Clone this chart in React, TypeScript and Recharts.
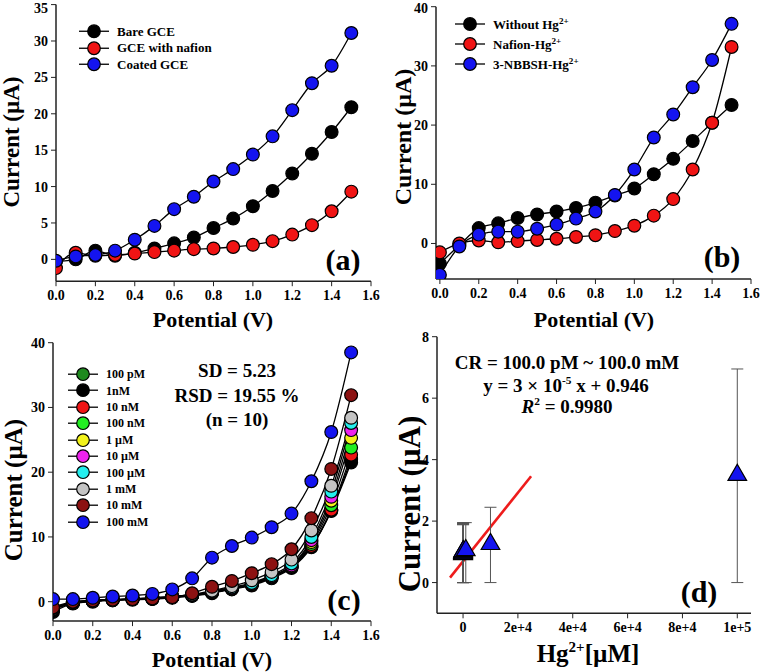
import React from "react";
import {
  LineChart,
  ComposedChart,
  Line,
  Scatter,
  ErrorBar,
  XAxis,
  YAxis,
  ZAxis,
  Legend,
} from "recharts";

const FONT = '"Liberation Serif", "Times New Roman", serif';

// potential sweep (V), shared by (a), (b), (c)
const potential = [0, 0.1, 0.2, 0.3, 0.4, 0.5, 0.6, 0.7, 0.8, 0.9, 1.0, 1.1, 1.2, 1.3, 1.4, 1.5];
const potentialTicks = [0, 0.2, 0.4, 0.6, 0.8, 1.0, 1.2, 1.4, 1.6];

// (a) electrode comparison
const bareGCE = [-0.3, 0.0, 1.2, 0.5, 0.9, 1.5, 2.2, 3.0, 4.3, 5.6, 7.3, 9.4, 11.8, 14.5, 17.5, 20.9];
const nafionGCE = [-1.2, 0.9, 0.5, 0.6, 0.8, 1.0, 1.2, 1.4, 1.5, 1.7, 2.0, 2.5, 3.4, 4.7, 6.6, 9.3];
const coatedGCE = [-0.2, 0.4, 0.6, 1.2, 2.7, 4.6, 6.9, 8.6, 10.7, 12.4, 14.4, 16.9, 20.5, 24.2, 26.6, 31.1];

// (b) Hg2+ response
const withoutHg = [-3.4, -0.3, 2.6, 3.4, 4.3, 4.9, 5.4, 6.0, 6.9, 8.1, 9.3, 11.7, 14.3, 17.3, 20.4, 23.4];
const nafionHg = [-1.5, 0.0, 0.5, 0.2, 0.4, 0.6, 0.8, 1.1, 1.4, 2.1, 3.0, 4.7, 7.5, 12.5, 20.4, 33.2];
const nbbshHg = [-5.3, -0.5, 1.5, 2.0, 2.0, 2.5, 3.2, 4.2, 5.4, 8.2, 12.5, 17.9, 21.8, 26.4, 31.0, 37.1];

// (c) concentration series
const c100pM = [-1.3, -0.2, 0.1, 0.3, 0.4, 0.5, 0.7, 0.9, 1.4, 2.0, 2.6, 3.8, 5.3, 8.5, 14.1, 22.0];
const c1nM = [-1.6, -0.3, 0.0, 0.2, 0.3, 0.4, 0.6, 0.9, 1.3, 1.9, 2.5, 3.6, 5.2, 8.4, 14.0, 21.5];
const c10nM = [-1.2, -0.2, 0.1, 0.3, 0.4, 0.5, 0.7, 1.0, 1.4, 2.0, 2.6, 3.8, 5.4, 8.6, 14.2, 22.7];
const c100nM = [-1.2, -0.2, 0.1, 0.3, 0.4, 0.5, 0.7, 1.0, 1.4, 2.0, 2.7, 3.9, 5.4, 8.9, 14.9, 23.8];
const c1uM = [-1.1, -0.2, 0.1, 0.3, 0.4, 0.5, 0.7, 1.0, 1.5, 2.1, 2.7, 3.9, 5.5, 9.2, 15.6, 25.3];
const c10uM = [-1.1, -0.1, 0.1, 0.3, 0.4, 0.5, 0.7, 1.0, 1.5, 2.1, 2.8, 4.0, 5.6, 9.5, 16.2, 26.5];
const c100uM = [-1.0, -0.1, 0.2, 0.3, 0.4, 0.6, 0.8, 1.0, 1.6, 2.2, 2.9, 4.1, 5.9, 10.0, 17.0, 27.6];
const c1mM = [-1.0, -0.1, 0.2, 0.3, 0.4, 0.6, 0.8, 1.1, 1.7, 2.4, 3.3, 4.6, 6.5, 11.0, 17.9, 28.4];
const c10mM = [-0.9, 0.0, 0.2, 0.3, 0.4, 0.5, 0.7, 1.3, 2.3, 3.2, 4.4, 5.8, 8.1, 12.9, 20.5, 31.9];
const c100mM = [0.4, 0.4, 0.6, 0.8, 0.95, 1.2, 1.9, 3.6, 6.8, 8.6, 9.9, 11.5, 13.6, 18.6, 26.2, 38.5];
const cLabels = ["100 pM", "1nM", "10 nM", "100 nM", "1 µM", "10 µM", "100 µM", "1 mM", "10 mM", "100 mM"];

// (d) calibration, Hg2+ in µM
const hgConc = [1e-4, 1e-3, 1e-2, 0.1, 1, 10, 100, 1000, 1e4, 1e5];
const meanCurrent = [0.92, 0.95, 0.93, 0.97, 0.98, 1.0, 1.02, 1.05, 1.25, 3.5];
const lowerBound = [0, 0, 0, 0, 0, 0, 0, 0, 0, 0];
const upperBound = [1.88, 1.9, 1.9, 1.92, 1.93, 1.95, 1.95, 1.95, 2.45, 6.95];
const fitX = [-4750, 24800];
const fitY = [0.16, 3.46];
const concTicks = [0, 2e4, 4e4, 6e4, 8e4, 1e5];
const concTickLabels = ["0", "2e+4", "4e+4", "6e+4", "8e+4", "1e+5"];

const BLACK = "#000";
const RED = "#f01414";
const BLUE = "#1414f0";
const cColors = ["#1f8a1f", "#000000", "#f01414", "#22ee22", "#f2f21a", "#ee22ee", "#22eeee", "#c4c4c4", "#8c1212", "#1414f0"];

const tickStyle = { fill: "#000", fontSize: 14, fontWeight: 700, fontFamily: FONT };
const axisLine = { stroke: "#222", strokeWidth: 1.5 };

type Item = { color: string; label: React.ReactNode };

function MarkerLegend({ items, row, fontSize }: { items: Item[]; row: number; fontSize: number }) {
  return (
    <div style={{ fontFamily: FONT, fontWeight: 700, fontSize, color: "#000", lineHeight: 1 }}>
      {items.map((it, i) => (
        <div key={i} style={{ display: "flex", alignItems: "center", height: row, whiteSpace: "nowrap" }}>
          <svg width={30} height={row}>
            <line x1={0} x2={30} y1={row / 2} y2={row / 2} stroke="#000" strokeWidth={1.3} />
            <circle cx={15} cy={row / 2} r={6.3} fill={it.color} stroke="#000" strokeWidth={1.2} />
          </svg>
          <span style={{ marginLeft: 8 }}>{it.label}</span>
        </div>
      ))}
    </div>
  );
}

function Txt({ x, y, size, children }: { x: number; y: number; size: number; children: React.ReactNode }) {
  return (
    <div
      style={{
        position: "absolute",
        left: x,
        top: y,
        transform: "translate(-50%, -50%)",
        fontFamily: FONT,
        fontWeight: 700,
        fontSize: size,
        whiteSpace: "nowrap",
        lineHeight: 1,
        color: "#000",
      }}
    >
      {children}
    </div>
  );
}

function YTitle({ x, y, size }: { x: number; y: number; size: number }) {
  return (
    <div
      style={{
        position: "absolute",
        left: x,
        top: y,
        transform: "translate(-50%, -50%) rotate(-90deg)",
        fontFamily: FONT,
        fontWeight: 700,
        fontSize: size,
        whiteSpace: "nowrap",
        lineHeight: 1,
        color: "#000",
      }}
    >
      Current (µA)
    </div>
  );
}

type Box = { left: number; top: number; width: number; height: number; x0: number; x1: number; y0: number; y1: number };

function frame(box: Box) {
  return {
    margin: { top: box.y0 - box.top, right: box.left + box.width - box.x1, left: 0, bottom: 0 },
    yw: box.x0 - box.left,
    xh: box.top + box.height - box.y1,
  };
}

const hg = (
  <>
    Hg<sup style={{ fontSize: "0.7em" }}>2+</sup>
  </>
);

function CurvePanel({
  box,
  rows,
  keys,
  colors,
  yDomain,
  yTicks,
  xDomain,
  legend,
  legendPos,
  legendRow,
  legendFont,
}: {
  box: Box;
  rows: any[];
  keys: string[];
  colors: string[];
  yDomain: number[];
  yTicks: number[];
  xDomain: number[];
  legend: Item[];
  legendPos: { left: number; top: number };
  legendRow: number;
  legendFont: number;
}) {
  const f = frame(box);
  return (
    <div style={{ position: "absolute", left: box.left, top: box.top }}>
      <LineChart width={box.width} height={box.height} data={rows} margin={f.margin}>
        <XAxis
          type="number"
          dataKey="v"
          domain={xDomain}
          ticks={potentialTicks}
          tickFormatter={(t: number) => t.toFixed(1)}
          allowDataOverflow
          height={f.xh}
          tick={tickStyle}
          tickLine={{ stroke: "#222" }}
          axisLine={axisLine}
          tickSize={5}
          tickMargin={4}
        />
        <XAxis xAxisId="top" orientation="top" type="number" domain={xDomain} allowDataOverflow height={0} tick={false} tickLine={false} axisLine={axisLine} />
        <YAxis
          type="number"
          domain={yDomain}
          ticks={yTicks}
          allowDataOverflow
          width={f.yw}
          tick={tickStyle}
          tickLine={{ stroke: "#222" }}
          axisLine={axisLine}
          tickSize={5}
          tickMargin={3}
        />
        <YAxis yAxisId="right" orientation="right" type="number" domain={yDomain} allowDataOverflow width={0} tick={false} tickLine={false} axisLine={axisLine} />
        <Legend
          layout="vertical"
          align="center"
          verticalAlign="middle"
          wrapperStyle={{ left: legendPos.left, top: legendPos.top, width: 200 }}
          content={() => <MarkerLegend items={legend} row={legendRow} fontSize={legendFont} />}
        />
        {keys.map((k, i) => (
          <Line
            key={k}
            dataKey={k}
            type="monotone"
            stroke="#000"
            strokeWidth={1.3}
            dot={{ r: 6.4, fill: colors[i], stroke: "#000", strokeWidth: 1.2 }}
            activeDot={false}
            isAnimationActive={false}
          />
        ))}
      </LineChart>
    </div>
  );
}

export default function App() {
  const rowsA = potential.map((v, i) => ({ v, bare: bareGCE[i], nafion: nafionGCE[i], coated: coatedGCE[i] }));
  const rowsB = potential.map((v, i) => ({ v, without: withoutHg[i], nafion: nafionHg[i], nbbsh: nbbshHg[i] }));
  const cSeries = [c100pM, c1nM, c10nM, c100nM, c1uM, c10uM, c100uM, c1mM, c10mM, c100mM];
  const cKeys = cSeries.map((_, k) => "s" + k);
  const rowsC = potential.map((v, i) => {
    const r: any = { v };
    cSeries.forEach((s, k) => (r["s" + k] = s[i]));
    return r;
  });
  const rowsD = hgConc.map((x, i) => ({
    x,
    y: meanCurrent[i],
    err: [meanCurrent[i] - lowerBound[i], upperBound[i] - meanCurrent[i]],
  }));
  const fitRows = fitX.map((x, i) => ({ x, y: fitY[i] }));

  const boxA: Box = { left: 0, top: 0, width: 380, height: 320, x0: 56, x1: 371, y0: 4.6, y1: 281.2 };
  const boxB: Box = { left: 380, top: 0, width: 380, height: 320, x0: 436, x1: 751, y0: 6.7, y1: 279 };
  const boxC: Box = { left: 0, top: 320, width: 380, height: 352, x0: 53, x1: 371, y0: 342.7, y1: 621.1 };
  const boxD: Box = { left: 380, top: 320, width: 380, height: 352, x0: 437, x1: 751, y0: 336.7, y1: 613.3 };
  const fd = frame(boxD);

  return (
    <div style={{ position: "absolute", left: 0, top: 0, width: 760, height: 672, background: "#fff", overflow: "hidden" }}>
      <CurvePanel
        box={boxA}
        rows={rowsA}
        keys={["bare", "nafion", "coated"]}
        colors={[BLACK, RED, BLUE]}
        xDomain={[0, 1.6]}
        yDomain={[-3, 35]}
        yTicks={[0, 5, 10, 15, 20, 25, 30, 35]}
        legend={[
          { color: BLACK, label: "Bare GCE" },
          { color: RED, label: "GCE with nafion" },
          { color: BLUE, label: "Coated GCE" },
        ]}
        legendPos={{ left: 79, top: 23 }}
        legendRow={16.5}
        legendFont={13}
      />
      <CurvePanel
        box={boxB}
        rows={rowsB}
        keys={["without", "nafion", "nbbsh"]}
        colors={[BLACK, RED, BLUE]}
        xDomain={[-0.02, 1.6]}
        yDomain={[-6, 40]}
        yTicks={[0, 10, 20, 30, 40]}
        legend={[
          { color: BLACK, label: <>Without {hg}</> },
          { color: RED, label: <>Nafion-{hg}</> },
          { color: BLUE, label: <>3-NBBSH-{hg}</> },
        ]}
        legendPos={{ left: 75, top: 14 }}
        legendRow={20}
        legendFont={13}
      />
      <CurvePanel
        box={boxC}
        rows={rowsC}
        keys={cKeys}
        colors={cColors}
        xDomain={[0, 1.6]}
        yDomain={[-3, 40]}
        yTicks={[0, 10, 20, 30, 40]}
        legend={cLabels.map((l, k) => ({ color: cColors[k], label: l }))}
        legendPos={{ left: 68, top: 46 }}
        legendRow={16.4}
        legendFont={12}
      />

      <div style={{ position: "absolute", left: boxD.left, top: boxD.top }}>
        <ComposedChart width={boxD.width} height={boxD.height} margin={fd.margin}>
          <XAxis
            type="number"
            dataKey="x"
            domain={[-9500, 105000]}
            ticks={concTicks}
            tickFormatter={(t: number) => concTickLabels[concTicks.indexOf(t)]}
            allowDataOverflow
            height={fd.xh}
            tick={tickStyle}
            tickLine={{ stroke: "#222" }}
            axisLine={axisLine}
            tickSize={5}
            tickMargin={4}
          />
          <XAxis xAxisId="top" orientation="top" type="number" domain={[-9500, 105000]} allowDataOverflow height={0} tick={false} tickLine={false} axisLine={axisLine} />
          <YAxis
            type="number"
            dataKey="y"
            domain={[-1, 8]}
            ticks={[0, 2, 4, 6, 8]}
            allowDataOverflow
            width={fd.yw}
            tick={tickStyle}
            tickLine={{ stroke: "#222" }}
            axisLine={axisLine}
            tickSize={5}
            tickMargin={3}
          />
          <YAxis yAxisId="right" orientation="right" type="number" domain={[-1, 8]} allowDataOverflow width={0} tick={false} tickLine={false} axisLine={axisLine} />
          <ZAxis range={[150, 150]} />
          <Line data={fitRows} dataKey="y" type="linear" stroke="#ee1c1c" strokeWidth={2.6} dot={false} activeDot={false} isAnimationActive={false} />
          <Scatter data={rowsD} dataKey="y" shape="triangle" fill={BLUE} stroke="#000" strokeWidth={1.2} isAnimationActive={false}>
            <ErrorBar dataKey="err" direction="y" width={6} stroke="#555" strokeWidth={1} />
          </Scatter>
        </ComposedChart>
      </div>

      <YTitle x={11} y={142} size={23} />
      <YTitle x={403} y={137} size={24} />
      <YTitle x={13} y={490} size={25} />
      <YTitle x={409} y={504} size={31} />

      <Txt x={213} y={320} size={22}>Potential (V)</Txt>
      <Txt x={594} y={320} size={22}>Potential (V)</Txt>
      <Txt x={212} y={660} size={22}>Potential (V)</Txt>
      <Txt x={588} y={653} size={25}>
        Hg<sup style={{ fontSize: "0.6em" }}>2+</sup>[µM]
      </Txt>

      <Txt x={237} y={370} size={19}>SD = 5.23</Txt>
      <Txt x={237} y={395} size={19}>RSD = 19.55 %</Txt>
      <Txt x={237} y={419} size={19}>(n = 10)</Txt>

      <Txt x={567} y={362} size={19}>CR = 100.0 pM ~ 100.0 mM</Txt>
      <Txt x={566} y={385} size={19}>
        y = 3 × 10<sup style={{ fontSize: "0.6em" }}>-5</sup> x + 0.946
      </Txt>
      <Txt x={567} y={406} size={19}>
        <i>R</i>
        <sup style={{ fontSize: "0.6em" }}>2</sup> = 0.9980
      </Txt>

      <Txt x={343} y={260} size={30}>(a)</Txt>
      <Txt x={722} y={257} size={30}>(b)</Txt>
      <Txt x={344} y={600} size={30}>(c)</Txt>
      <Txt x={699} y={592} size={30}>(d)</Txt>
    </div>
  );
}
